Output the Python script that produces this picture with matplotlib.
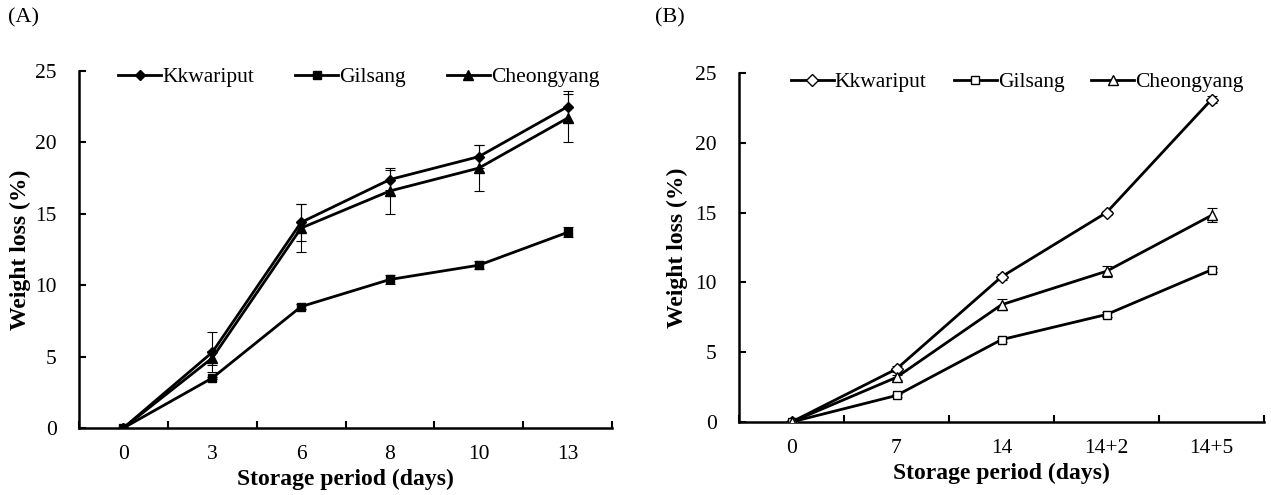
import numpy as np
import matplotlib.pyplot as plt

plt.rcParams['font.family'] = ['Liberation Serif', 'DejaVu Serif']

#
# Panel A data
#
days_a = ['0', '3', '6', '8', '10', '13']
kkw_a = [0, 5.3, 14.4, 17.4, 19.0, 22.5]
kkw_a_err = [0, 1.4, 1.3, 0.7, 0.8, 1.1]
gil_a = [0, 3.5, 8.5, 10.4, 11.4, 13.7]
gil_a_err = [0, 0.1, 0.2, 0.3, 0.3, 0.35]
che_a = [0, 4.9, 14.0, 16.6, 18.2, 21.7]
che_a_err = [0, 0.5, 1.7, 1.6, 1.6, 1.7]

#
# Panel B data
#
days_b = ['0', '7', '14', '14+2', '14+5']
kkw_b = [0, 3.8, 10.4, 15.0, 23.1]
kkw_b_err = [0, 0.2, 0.2, 0.15, 0.25]
gil_b = [0, 1.9, 5.9, 7.7, 10.9]
gil_b_err = [0, 0.1, 0.15, 0.15, 0.15]
che_b = [0, 3.2, 8.4, 10.8, 14.8]
che_b_err = [0, 0.2, 0.4, 0.4, 0.5]

names = ['Kkwariput', 'Gilsang', 'Cheongyang']

fig = plt.figure(figsize=(12.71, 4.95), dpi=100)
ax1 = fig.add_axes([79 / 1271, 1 - 428 / 495, (612 - 79) / 1271, (428 - 71) / 495])
ax2 = fig.add_axes([739 / 1271, 1 - 422 / 495, (1264 - 739) / 1271, (422 - 73) / 495])


def draw(ax, days, series, errs, markers, filled, msizes, leg_anchor, colsp):
    x = np.arange(len(days))
    for name, y, e, m, ms in zip(names, series, errs, markers, msizes):
        ax.errorbar(x, y, yerr=e, fmt='none', ecolor='black', elinewidth=0.8,
                    capsize=3.5, capthick=0.8, zorder=2)
        ax.plot(x, y, color='black', lw=2.0, marker=m, ms=ms,
                mfc='black' if filled else 'white', mec='black', mew=1.0,
                label=name, zorder=3)
    ax.set_xlim(-0.5, len(days) - 0.5)
    ax.set_ylim(0, 25)
    ax.set_yticks([0, 5, 10, 15, 20, 25])
    ax.set_xticks(np.arange(len(days) + 1) - 0.5)
    ax.set_xticklabels([])
    ax.set_xticks(x, minor=True)
    ax.set_xticklabels(days, minor=True)
    ax.tick_params(axis='x', which='major', direction='in', length=5, width=1.5)
    ax.tick_params(axis='x', which='minor', length=0, pad=12, labelsize=15.5)
    ax.tick_params(axis='y', direction='in', length=5, width=1.5, pad=16, labelsize=15.5)
    for s in ['top', 'right']:
        ax.spines[s].set_visible(False)
    for s in ['left', 'bottom']:
        ax.spines[s].set_linewidth(1.8)
    ax.set_ylabel('Weight loss (%)', fontsize=17, fontweight='bold')
    ax.set_xlabel('Storage period (days)', fontsize=17, fontweight='bold', labelpad=4)
    ax.legend(loc='upper center', ncol=3, frameon=False, fontsize=15.5,
              handlelength=2.0, handletextpad=0.05, columnspacing=colsp,
              bbox_to_anchor=leg_anchor, borderaxespad=0)


draw(ax1, days_a, [kkw_a, gil_a, che_a], [kkw_a_err, gil_a_err, che_a_err],
     ['D', 's', '^'], True, [5, 6, 7], (0.525, 1.035), 1.9)
draw(ax2, days_b, [kkw_b, gil_b, che_b], [kkw_b_err, gil_b_err, che_b_err],
     ['D', 's', '^'], False, [6, 6, 7], (0.53, 1.027), 1.25)

ax1.yaxis.set_label_coords(-0.09, 0.5)
ax2.yaxis.set_label_coords(-0.098, 0.5)

fig.text(8 / 1271, 1 - 18 / 495, '(A)', fontsize=16, va='center', ha='left')
fig.text(655 / 1271, 1 - 18 / 495, '(B)', fontsize=16, va='center', ha='left')

plt.savefig('out.png', dpi=100)
